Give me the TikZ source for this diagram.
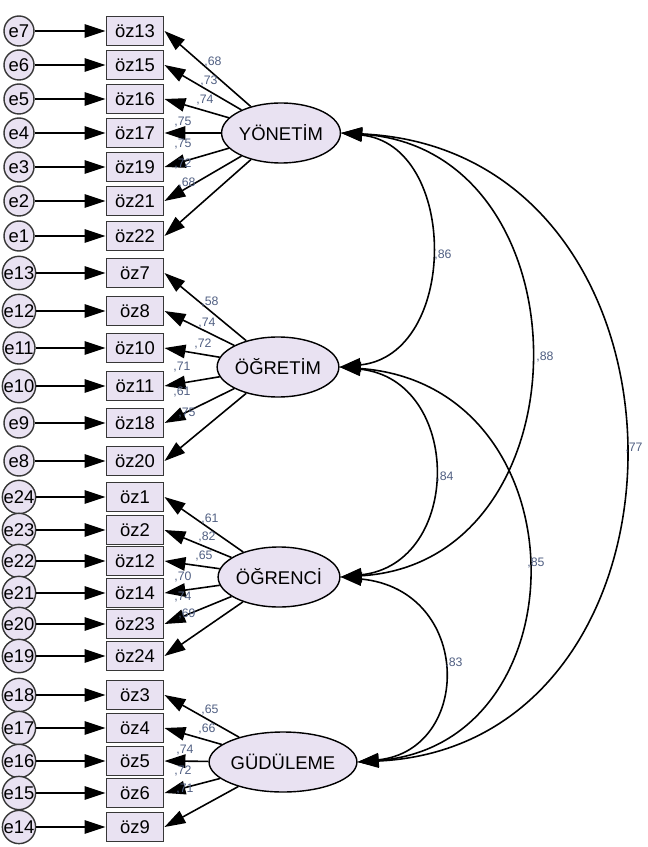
\documentclass[tikz,border=0pt]{standalone}
\usepackage{fontspec}
\setmainfont{Liberation Sans}
\usepackage{tikz}
\usetikzlibrary{shapes.geometric}
\usetikzlibrary{%
  arrows.meta,%
  calc%
}
\definecolor{amosfill}{RGB}{233,226,242}
\definecolor{amosedge}{RGB}{55,55,55}
\definecolor{amosnum}{RGB}{80,95,130}

\begin{document}
\begin{tikzpicture}[x=0.02cm,y=-0.02cm,
  obs/.style={draw=amosedge,line width=1.1pt,fill=amosfill,minimum width=1.14cm,minimum height=0.58cm,inner sep=0pt,font=\fontsize{10.5}{12}\selectfont},
  err/.style={circle,draw=amosedge,line width=0.8pt,fill=amosfill,minimum size=0.6cm,inner sep=0pt,font=\fontsize{10.5}{12}\selectfont},
  lat/.style={ellipse,draw,line width=0.8pt,fill=amosfill,minimum width=2.22cm,minimum height=1.2cm,inner sep=0pt,font=\fontsize{10.5}{12}\selectfont},
  load/.style={-{Triangle[length=0.42cm,width=0.27cm]},line width=0.9pt},
  cov/.style={{Triangle[length=0.42cm,width=0.27cm]}-{Triangle[length=0.42cm,width=0.27cm]},line width=0.9pt},
  wt/.style={text=amosnum,inner sep=0pt,font=\fontsize{7}{8}\selectfont}]

\useasboundingbox (0,0) rectangle (647,847);

\node[lat] (yon) at (281,133) {YÖNETİM};
\node[lat] (ogret) at (278,367) {ÖĞRETİM};
\node[lat] (ogrenc) at (279,577) {ÖĞRENCİ};
\node[lat] (gud) at (283,762) {GÜDÜLEME};

\node[obs] (oz13) at (135,31) {öz13};
\node[obs] (oz15) at (135,65) {öz15};
\node[obs] (oz16) at (135,99) {öz16};
\node[obs] (oz17) at (135,133) {öz17};
\node[obs] (oz19) at (135,167) {öz19};
\node[obs] (oz21) at (135,201) {öz21};
\node[obs] (oz22) at (135,236) {öz22};
\node[err] (e7) at (19,31) {e7};
\node[err] (e6) at (19,65) {e6};
\node[err] (e5) at (19,99) {e5};
\node[err] (e4) at (19,133) {e4};
\node[err] (e3) at (19,167) {e3};
\node[err] (e2) at (19,201) {e2};
\node[err] (e1) at (19,236) {e1};

\node[obs] (oz7) at (135,273) {öz7};
\node[obs] (oz8) at (135,311) {öz8};
\node[obs] (oz10) at (135,348) {öz10};
\node[obs] (oz11) at (135,386) {öz11};
\node[obs] (oz18) at (135,423) {öz18};
\node[obs] (oz20) at (135,461) {öz20};
\node[err] (e13) at (19,273) {e13};
\node[err] (e12) at (19,311) {e12};
\node[err] (e11) at (19,348) {e11};
\node[err] (e10) at (19,386) {e10};
\node[err] (e9) at (19,423) {e9};
\node[err] (e8) at (19,461) {e8};

\node[obs] (oz1) at (135,497) {öz1};
\node[obs] (oz2) at (135,530) {öz2};
\node[obs] (oz12) at (135,561) {öz12};
\node[obs] (oz14) at (135,593) {öz14};
\node[obs] (oz23) at (135,624) {öz23};
\node[obs] (oz24) at (135,656) {öz24};
\node[err] (e24) at (19,497) {e24};
\node[err] (e23) at (19,530) {e23};
\node[err] (e22) at (19,561) {e22};
\node[err] (e21) at (19,593) {e21};
\node[err] (e20) at (19,624) {e20};
\node[err] (e19) at (19,656) {e19};

\node[obs] (oz3) at (135,695) {öz3};
\node[obs] (oz4) at (135,728) {öz4};
\node[obs] (oz5) at (135,761) {öz5};
\node[obs] (oz6) at (135,793) {öz6};
\node[obs] (oz9) at (135,827) {öz9};
\node[err] (e18) at (19,695) {e18};
\node[err] (e17) at (19,728) {e17};
\node[err] (e16) at (19,761) {e16};
\node[err] (e15) at (19,793) {e15};
\node[err] (e14) at (19,827) {e14};

\draw[load] (e7) -- (oz13);  \draw[load] (e6) -- (oz15);  \draw[load] (e5) -- (oz16);
\draw[load] (e4) -- (oz17);  \draw[load] (e3) -- (oz19);  \draw[load] (e2) -- (oz21);
\draw[load] (e1) -- (oz22);
\draw[load] (e13) -- (oz7);  \draw[load] (e12) -- (oz8);  \draw[load] (e11) -- (oz10);
\draw[load] (e10) -- (oz11); \draw[load] (e9) -- (oz18);  \draw[load] (e8) -- (oz20);
\draw[load] (e24) -- (oz1);  \draw[load] (e23) -- (oz2);  \draw[load] (e22) -- (oz12);
\draw[load] (e21) -- (oz14); \draw[load] (e20) -- (oz23); \draw[load] (e19) -- (oz24);
\draw[load] (e18) -- (oz3);  \draw[load] (e17) -- (oz4);  \draw[load] (e16) -- (oz5);
\draw[load] (e15) -- (oz6);  \draw[load] (e14) -- (oz9);

\draw[load] (yon) -- (oz13.east);  \draw[load] (yon) -- (oz15.east);  \draw[load] (yon) -- (oz16.east);
\draw[load] (yon) -- (oz17.east);  \draw[load] (yon) -- (oz19.east);  \draw[load] (yon) -- (oz21.east);
\draw[load] (yon) -- (oz22.east);
\node[wt] (w13) at (213,62) {,68};  \node[wt] (w15) at (209,81) {,73};  \node[wt] (w16) at (205,100) {,74};
\node[wt] (w17) at (183,122) {,75}; \node[wt] (w19) at (183,144) {,75}; \node[wt] (w21) at (183,164) {,72};
\node[wt] (w22) at (187,183) {,68};

\draw[load] (ogret) -- (oz7.east);  \draw[load] (ogret) -- (oz8.east);  \draw[load] (ogret) -- (oz10.east);
\draw[load] (ogret) -- (oz11.east); \draw[load] (ogret) -- (oz18.east); \draw[load] (ogret) -- (oz20.east);
\node[wt] (w7) at (210,302) {,58};  \node[wt] (w8) at (207,323) {,74};  \node[wt] (w10) at (203,344) {,72};
\node[wt] (w11) at (182,367) {,71}; \node[wt] (w18) at (182,392) {,61}; \node[wt] (w20) at (187,413) {,75};

\draw[load] (ogrenc) -- (oz1.east);  \draw[load] (ogrenc) -- (oz2.east);  \draw[load] (ogrenc) -- (oz12.east);
\draw[load] (ogrenc) -- (oz14.east); \draw[load] (ogrenc) -- (oz23.east); \draw[load] (ogrenc) -- (oz24.east);
\node[wt] (w1) at (210,519) {,61};  \node[wt] (w2) at (207,537) {,82};  \node[wt] (w12) at (204,556) {,65};
\node[wt] (w14) at (183,577) {,70}; \node[wt] (w23) at (183,597) {,74}; \node[wt] (w24) at (187,614) {,69};

\draw[load] (gud) -- (oz3.east);  \draw[load] (gud) -- (oz4.east);  \draw[load] (gud) -- (oz5.east);
\draw[load] (gud) -- (oz6.east);  \draw[load] (gud) -- (oz9.east);
\node[wt] (w3) at (210,710) {,65};  \node[wt] (w4) at (207,729) {,66};  \node[wt] (w5) at (185,750) {,74};
\node[wt] (w6) at (183,771) {,72};  \node[wt] (w9) at (185,789) {,71};

\draw[cov] (yon.east) .. controls (459,145) and (459,355) .. (ogret.east);
\draw[cov] (yon.east) .. controls (591,148) and (591,562) .. (ogrenc.east);
\draw[cov] (yon.east) .. controls (714,150) and (714,745) .. (gud.east);
\draw[cov] (ogret.east) .. controls (463,380) and (463,564) .. (ogrenc.east);
\draw[cov] (ogret.east) .. controls (585,385) and (585,745) .. (gud.east);
\draw[cov] (ogrenc.east) .. controls (473,590) and (473,750) .. (gud.east);
\node[wt,anchor=west] (c1) at (434,255) {,86};
\node[wt,anchor=west] (c2) at (536,357) {,88};
\node[wt,anchor=west] (c3) at (625,448) {,77};
\node[wt,anchor=west] (c4) at (436,477) {,84};
\node[wt,anchor=west] (c5) at (527,563) {,85};
\node[wt,anchor=west] (c6) at (445,663) {,83};

\end{tikzpicture}
\end{document}
